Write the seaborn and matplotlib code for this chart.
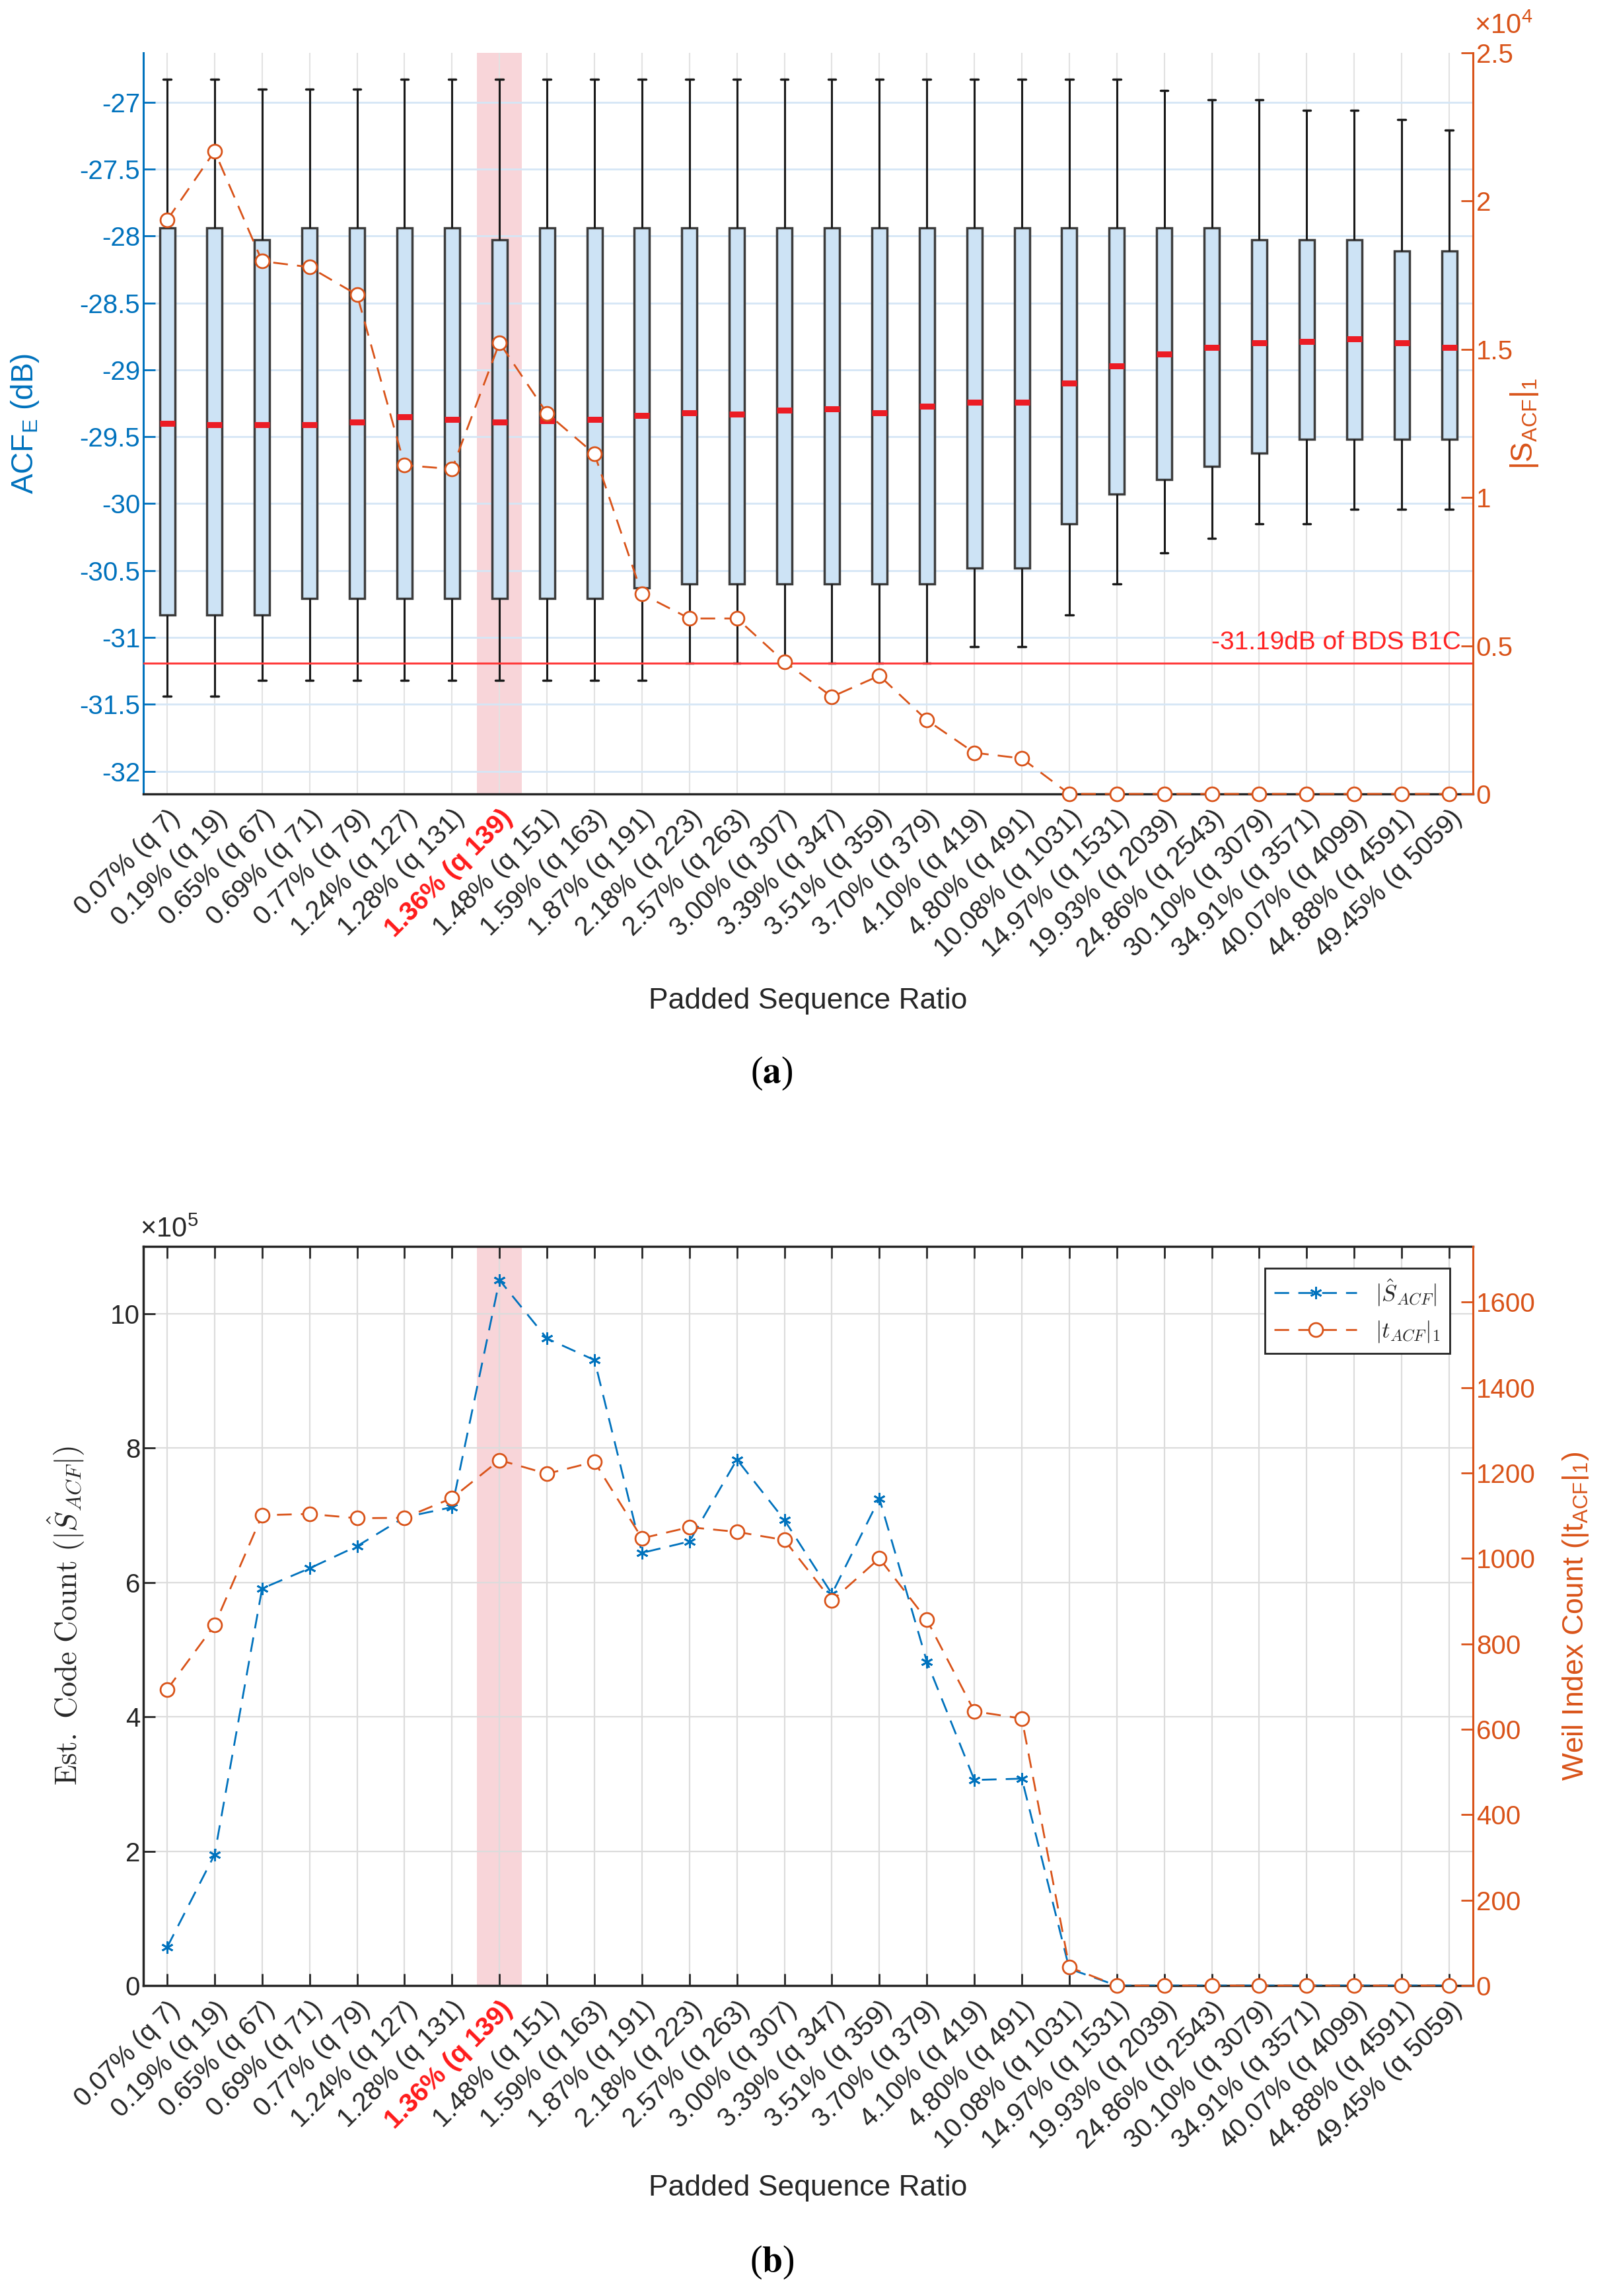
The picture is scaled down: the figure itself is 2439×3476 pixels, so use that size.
import numpy as np
import pandas as pd
import matplotlib
matplotlib.use('Agg')
import matplotlib.pyplot as plt
import seaborn as sns

# category labels (padded sequence ratio)
ratio_labels = ['0.07% (q 7)', '0.19% (q 19)', '0.65% (q 67)', '0.69% (q 71)', '0.77% (q 79)',
                '1.24% (q 127)', '1.28% (q 131)', '1.36% (q 139)', '1.48% (q 151)', '1.59% (q 163)',
                '1.87% (q 191)', '2.18% (q 223)', '2.57% (q 263)', '3.00% (q 307)', '3.39% (q 347)',
                '3.51% (q 359)', '3.70% (q 379)', '4.10% (q 419)', '4.80% (q 491)', '10.08% (q 1031)',
                '14.97% (q 1531)', '19.93% (q 2039)', '24.86% (q 2543)', '30.10% (q 3079)',
                '34.91% (q 3571)', '40.07% (q 4099)', '44.88% (q 4591)', '49.45% (q 5059)']
highlight_idx = 7

# (a) ACF_E box statistics in dB
whisker_hi = [-26.83, -26.83, -26.90, -26.90, -26.90, -26.83, -26.83, -26.83, -26.83, -26.83,
              -26.83, -26.83, -26.83, -26.83, -26.83, -26.83, -26.83, -26.83, -26.83, -26.83,
              -26.83, -26.91, -26.98, -26.98, -27.06, -27.06, -27.13, -27.21]
box_q3 = [-27.94, -27.94, -28.03, -27.94, -27.94, -27.94, -27.94, -28.03, -27.94, -27.94,
          -27.94, -27.94, -27.94, -27.94, -27.94, -27.94, -27.94, -27.94, -27.94, -27.94,
          -27.94, -27.94, -27.94, -28.03, -28.03, -28.03, -28.11, -28.11]
box_median = [-29.40, -29.41, -29.41, -29.41, -29.39, -29.35, -29.37, -29.39, -29.38, -29.37,
              -29.34, -29.32, -29.33, -29.30, -29.29, -29.32, -29.27, -29.24, -29.24, -29.10,
              -28.97, -28.88, -28.83, -28.80, -28.79, -28.77, -28.80, -28.83]
box_q1 = [-30.83, -30.83, -30.83, -30.71, -30.71, -30.71, -30.71, -30.71, -30.71, -30.71,
          -30.63, -30.60, -30.60, -30.60, -30.60, -30.60, -30.60, -30.48, -30.48, -30.15,
          -29.93, -29.82, -29.72, -29.62, -29.52, -29.52, -29.52, -29.52]
whisker_lo = [-31.44, -31.44, -31.32, -31.32, -31.32, -31.32, -31.32, -31.32, -31.32, -31.32,
              -31.32, -31.19, -31.19, -31.19, -31.19, -31.19, -31.19, -31.07, -31.07, -30.83,
              -30.60, -30.37, -30.26, -30.15, -30.15, -30.04, -30.04, -30.04]
bds_b1c_db = -31.19

# (a) |S_ACF|_1
s_acf_l1 = [19360, 21680, 17970, 17770, 16840, 11090, 10960, 15220, 12840, 11470,
            6740, 5920, 5920, 4460, 3280, 3990, 2490, 1390, 1200, 0,
            0, 0, 0, 0, 0, 0, 0, 0]

# (b) estimated code count |S_hat_ACF| and Weil index count |t_ACF|_1
s_hat_count = [57000, 195000, 591000, 621000, 654000, 697000, 712000, 1050000, 963000, 931000,
               644000, 661000, 783000, 693000, 583000, 725000, 482000, 306000, 308000, 25000,
               0, 0, 0, 0, 0, 0, 0, 0]
t_acf_count = [693, 844, 1101, 1104, 1094, 1095, 1141, 1230, 1198, 1226,
               1047, 1073, 1062, 1043, 901, 1000, 856, 642, 625, 43,
               0, 0, 0, 0, 0, 0, 0, 0]

BLUE = '#0072BD'
ORANGE = '#D95319'
DARK = '#262626'
BAND = '#f8d5d9'

sns.set_style('white')
plt.rcParams['font.family'] = ['Liberation Sans', 'DejaVu Sans']
plt.rcParams['mathtext.fontset'] = 'custom'
plt.rcParams['mathtext.rm'] = 'Liberation Sans'
plt.rcParams['mathtext.it'] = 'Liberation Sans:italic'
plt.rcParams['mathtext.bf'] = 'Liberation Sans:bold'

fig = plt.figure(figsize=(24.39, 34.76), dpi=100)
ax1 = fig.add_axes([0.089, 0.6542, 0.8253, 0.3228])
ax3 = fig.add_axes([0.089, 0.1352, 0.8253, 0.3219])
xpos = np.arange(len(ratio_labels))


def style_xticks(ax):
    ax.set_xticks(xpos)
    ax.set_xticklabels(ratio_labels, rotation=45, ha='right', rotation_mode='anchor',
                       fontsize=29, color=DARK)
    lbl = ax.get_xticklabels()[highlight_idx]
    lbl.set_color('#ff1a1a')
    lbl.set_fontweight('bold')
    ax.set_xlim(-0.5, len(ratio_labels) - 0.5)


# ---------------- (a) ----------------
box_df = pd.DataFrame({
    'ratio': np.repeat(ratio_labels, 5),
    'acf': np.column_stack([whisker_lo, box_q1, box_median, box_q3, whisker_hi]).ravel(),
})
ax1.axvspan(highlight_idx - 0.47, highlight_idx + 0.47, color=BAND, lw=0, zorder=0)
sns.boxplot(data=box_df, x='ratio', y='acf', order=ratio_labels, whis=(0, 100), width=0.32,
            color='#cde3f5', saturation=1, linecolor='#3c3c3c', linewidth=2.5, ax=ax1,
            medianprops=dict(color='#ec1c24', linewidth=6.5, solid_capstyle='butt'),
            whiskerprops=dict(color='#1a1a1a', linewidth=2.2),
            capprops=dict(color='#1a1a1a', linewidth=2.5))
ax1.axhline(bds_b1c_db, color='#ff3b3b', lw=2.2, zorder=3)
ax1.text(27.25, bds_b1c_db + 0.06, '-31.19dB of BDS B1C', color='#ff2222', fontsize=28,
         ha='right', va='bottom')

ax1.set_axisbelow(True)
ax1.grid(axis='y', color='#d5e6f6', lw=2)
ax1.grid(axis='x', color='#e2e2e2', lw=1.5)
ax1.set_ylim(-32.17, -26.63)
ax1.set_yticks(np.arange(-32, -26.9, 0.5))
ax1.set_yticklabels(['%g' % v for v in np.arange(-32, -26.9, 0.5)])
style_xticks(ax1)
ax1.tick_params(axis='y', colors=BLUE, labelsize=29, direction='in', length=13, width=2)
ax1.tick_params(axis='x', direction='in', length=13, width=2, color=DARK, pad=12)
for s in ['top', 'right']:
    ax1.spines[s].set_visible(False)
ax1.spines['left'].set_color(BLUE)
ax1.spines['left'].set_linewidth(2.2)
ax1.spines['bottom'].set_color(DARK)
ax1.spines['bottom'].set_linewidth(2.5)
ax1.set_xlabel('Padded Sequence Ratio', fontsize=32, color=DARK)
ax1.xaxis.set_label_coords(0.5, -0.261)
ax1.set_ylabel('ACF$_\\mathrm{E}$ (dB)', fontsize=33, color=BLUE)
ax1.yaxis.set_label_coords(-0.077, 0.5)

ax2 = ax1.twinx()
sns.lineplot(x=xpos, y=np.array(s_acf_l1) / 1e4, ax=ax2, color=ORANGE, errorbar=None,
             marker='o', markersize=15, markerfacecolor='white', markeredgecolor=ORANGE,
             markeredgewidth=2, linewidth=2, linestyle=(0, (8, 5)), clip_on=False, zorder=5)
ax2.set_ylim(0, 2.5)
ax2.set_yticks(np.arange(0, 2.51, 0.5))
ax2.set_yticklabels(['%g' % v for v in np.arange(0, 2.51, 0.5)])
ax2.tick_params(axis='y', colors=ORANGE, labelsize=29, direction='in', length=13, width=2)
for s in ['top', 'left', 'bottom']:
    ax2.spines[s].set_visible(False)
ax2.spines['right'].set_color(ORANGE)
ax2.spines['right'].set_linewidth(2.2)
ax2.set_ylabel('|S$_\\mathrm{ACF}$|$_1$', fontsize=33, color=ORANGE)
ax2.yaxis.set_label_coords(1.027, 0.5)
ax2.set_xlim(-0.5, len(ratio_labels) - 0.5)
fig.text(0.915, 0.9885, '$\\times$10$^4$', color=ORANGE, fontsize=30, ha='left', va='center')

fig.text(0.479, 0.5325, '($\\mathbf{a}$)', fontfamily='Liberation Serif', math_fontfamily='stix',
         fontsize=40, ha='center', va='center', color='black')

# ---------------- (b) ----------------
ax3.axvspan(highlight_idx - 0.47, highlight_idx + 0.47, color=BAND, lw=0, zorder=0)
sns.lineplot(x=xpos, y=np.array(s_hat_count) / 1e5, ax=ax3, color=BLUE, errorbar=None,
             marker=(6, 2, 0), markersize=13, markeredgecolor=BLUE, markeredgewidth=2,
             linewidth=2, linestyle=(0, (8, 5)), zorder=4)
ax3.set_axisbelow(True)
ax3.grid(True, color='#dcdcdc', lw=1.6)
ax3.set_ylim(0, 11)
ax3.set_yticks(np.arange(0, 11, 2))
style_xticks(ax3)
ax3.tick_params(axis='y', colors=DARK, labelsize=29, direction='in', length=13, width=2)
ax3.tick_params(axis='x', direction='in', length=13, width=2, color=DARK, pad=12,
                top=True, bottom=True)
for s in ['top', 'left', 'bottom']:
    ax3.spines[s].set_color(DARK)
    ax3.spines[s].set_linewidth(2.5)
ax3.spines['right'].set_visible(False)
ax3.set_xlabel('Padded Sequence Ratio', fontsize=32, color=DARK)
ax3.xaxis.set_label_coords(0.5, -0.256)
ax3.set_ylabel('$\\mathrm{Est.\\ Code\\ Count\\ }(|\\hat{S}_{ACF}|)$', fontsize=33, color=DARK,
               math_fontfamily='cm')
ax3.yaxis.set_label_coords(-0.043, 0.5)
fig.text(0.087, 0.4643, '$\\times$10$^5$', color=DARK, fontsize=30, ha='left', va='center')

ax4 = ax3.twinx()
sns.lineplot(x=xpos, y=t_acf_count, ax=ax4, color=ORANGE, errorbar=None,
             marker='o', markersize=15, markerfacecolor='white', markeredgecolor=ORANGE,
             markeredgewidth=2, linewidth=2, linestyle=(0, (8, 5)), clip_on=False, zorder=5)
ax4.set_ylim(0, 1730)
ax4.set_yticks(np.arange(0, 1601, 200))
ax4.tick_params(axis='y', colors=ORANGE, labelsize=29, direction='in', length=13, width=2)
for s in ['top', 'left', 'bottom']:
    ax4.spines[s].set_visible(False)
ax4.spines['right'].set_color(ORANGE)
ax4.spines['right'].set_linewidth(2.2)
ax4.set_ylabel('Weil Index Count (|t$_\\mathrm{ACF}$|$_1$)', fontsize=32, color=ORANGE)
ax4.yaxis.set_label_coords(1.066, 0.5)
ax4.set_xlim(-0.5, len(ratio_labels) - 0.5)

leg = ax4.legend([ax3.lines[-1], ax4.lines[-1]],
                 ['$|\\hat{S}_{ACF}|$', '$|t_{ACF}|_1$'],
                 loc='upper right', bbox_to_anchor=(0.9826, 0.9705), borderaxespad=0,
                 prop={'size': 25, 'math_fontfamily': 'cm'}, handlelength=3.6,
                 fancybox=False, framealpha=1, edgecolor=DARK)
leg.get_frame().set_linewidth(2)

fig.text(0.479, 0.0147, '($\\mathbf{b}$)', fontfamily='Liberation Serif', math_fontfamily='stix',
         fontsize=40, ha='center', va='center', color='black')

fig.savefig('out.png', dpi=100)
